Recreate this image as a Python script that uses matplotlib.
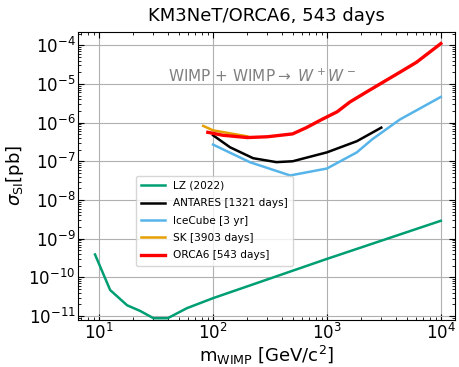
import matplotlib
matplotlib.use("Agg")
import matplotlib.pyplot as plt
from matplotlib.ticker import NullFormatter
import numpy as np

# WIMP mass [GeV/c^2] and cross-section limits [pb]
lz_mass = [9.2, 12.5, 17.6, 23, 30, 40, 59, 100, 1000, 10000]
lz_xs = [3.9e-10, 4.7e-11, 1.9e-11, 1.35e-11, 8.8e-12, 8.8e-12, 1.6e-11, 2.9e-11, 3.0e-10, 2.9e-9]

antares_mass = [100, 141, 225, 360, 500, 1000, 1830, 3000]
antares_xs = [4.7e-7, 2.3e-7, 1.2e-7, 9.5e-8, 1.0e-7, 1.7e-7, 3.3e-7, 7.4e-7]

icecube_mass = [100, 210, 475, 1000, 1830, 2500, 4370, 10000]
icecube_xs = [2.7e-7, 9.5e-8, 4.3e-8, 6.5e-8, 1.7e-7, 3.7e-7, 1.2e-6, 4.6e-6]

sk_mass = [82, 100, 200]
sk_xs = [8.2e-7, 6.3e-7, 4.4e-7]

orca_mass = [90, 122, 200, 300, 500, 660, 900, 1230, 1590, 2230, 3100, 4370, 6100, 10000]
orca_xs = [5.6e-7, 4.7e-7, 4.1e-7, 4.3e-7, 5.1e-7, 7.4e-7, 1.2e-6, 1.9e-6, 3.4e-6,
           6.2e-6, 1.1e-5, 2.0e-5, 3.6e-5, 1.1e-4]

y_decades = [1e-11, 1e-10, 1e-9, 1e-8, 1e-7, 1e-6, 1e-5, 1e-4]

fig = plt.figure(figsize=(4.6, 3.67), dpi=100)
ax = fig.add_axes([0.17, 0.128, 0.819, 0.785])

ax.plot(lz_mass, lz_xs, color='#009E73', lw=1.8, label='LZ (2022)')
ax.plot(antares_mass, antares_xs, color='black', lw=1.8, label='ANTARES [1321 days]')
ax.plot(icecube_mass, icecube_xs, color='#56B4E9', lw=1.8, label='IceCube [3 yr]')
ax.plot(sk_mass, sk_xs, color='#E69F00', lw=1.8, label='SK [3903 days]')
ax.plot(orca_mass, orca_xs, color='red', lw=2.4, label='ORCA6 [543 days]')

ax.set_xscale('log')
ax.set_yscale('log')
ax.set_xlim(6.55, 13300)
ax.set_ylim(7.9e-12, 2.2e-4)
ax.set_yticks(y_decades)
minor_y = [d * k for d in [1e-12] + y_decades for k in range(2, 10)]
minor_y = [v for v in minor_y if 7.9e-12 < v < 2.2e-4]
ax.set_yticks(minor_y, minor=True)
ax.yaxis.set_minor_formatter(NullFormatter())
ax.grid(True, which='major', color='#b0b0b0', lw=0.8)
ax.tick_params(which='both', direction='in', top=True, right=True, labelsize=12, pad=2)
ax.tick_params(which='major', length=4)
ax.tick_params(which='minor', length=2)

ax.set_xlabel(r'm$_{\mathrm{WIMP}}$ [GeV/c$^2$]', fontsize=13, labelpad=1)
ax.set_ylabel(r'$\sigma_{\mathrm{SI}}$[pb]', fontsize=13, labelpad=2)
ax.set_title('KM3NeT/ORCA6, 543 days', fontsize=13, pad=8)

ax.text(270, 1.6e-5, r'WIMP + WIMP$\rightarrow$ $W^+W^-$', color='gray',
        fontsize=11, ha='center', va='center')

ax.legend(loc='lower left', bbox_to_anchor=(0.14, 0.17), fontsize=7.6,
          handlelength=2.2, borderpad=0.5, labelspacing=0.7)

fig.savefig('out.png', dpi=100)
